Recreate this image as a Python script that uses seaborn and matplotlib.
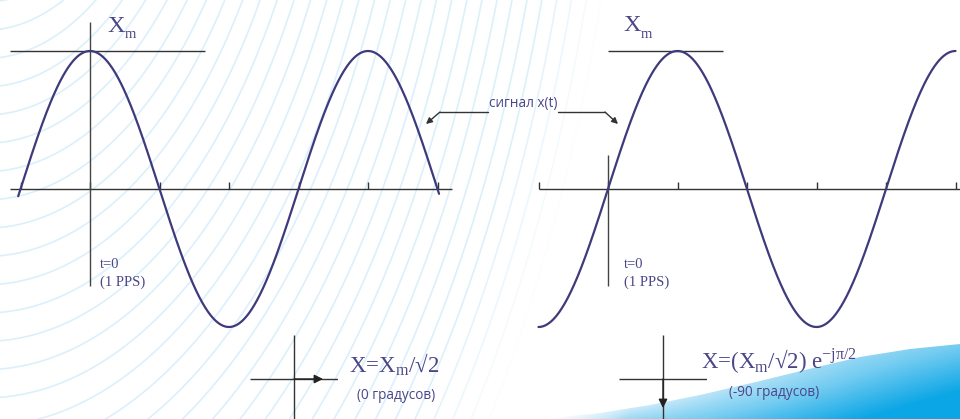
import numpy as np
import pandas as pd
import matplotlib
matplotlib.use("Agg")
import matplotlib.pyplot as plt
import seaborn as sns
from matplotlib.colors import LinearSegmentedColormap
from matplotlib.path import Path
from matplotlib.patches import PathPatch

# ---------------- data ----------------
panel_names = ["0 градусов", "-90 градусов"]
phase_shift_deg = [0, -90]          # phase of x(t) relative to t=0 (1 PPS)
amplitude_xm = [1.0, 1.0]
wave_start_deg = [-93, -90]
wave_end_deg = [452, 450]
tick_deg = [-90, 0, 90, 180, 270, 360, 450]
axis_span_deg = [(-103.6, 468.8), (-90.0, 460.0)]
xm_line_span_deg = [(-103.6, 148.8), (0.0, 148.8)]
t0_line_span = [(-0.703, 1.21), (-0.703, 0.246)]
phasor_length = 0.66
xm_parts = ["X", "m"]
formula_labels = ["X=X$_\\mathregular{m}$/√2",
                  "X=(X$_\\mathregular{m}$/√2) e$^\\mathregular{-jπ/2}$"]
degree_labels = ["(0 градусов)", "(-90 градусов)"]
signal_label = "сигнал x(t)"
t0_labels = ["t=0", "(1 PPS)"]

# ---------------- style ----------------
W, H = 960, 419
CURVE = "#3e3a7c"
TEXT = "#4a4687"
AXC = "#333333"
SERIF = ["Liberation Serif", "DejaVu Serif"]
SANS = ["Open Sans", "DejaVu Sans"]

sns.set_theme(style="white")
plt.rcParams["font.family"] = SANS

fig = plt.figure(figsize=(W / 100, H / 100), dpi=100)
fig.patch.set_facecolor("white")

# background / annotation layer in pixel coordinates
ax_bg = fig.add_axes([0, 0, 1, 1], zorder=0)
ax_bg.set_xlim(0, W)
ax_bg.set_ylim(H, 0)
ax_bg.set_axis_off()

# decorative light-blue arcs
cx, cy, ratio = -15.0, -400.0, 2.02
tt = np.linspace(-0.05, np.pi / 2 + 0.05, 600)
for a in np.arange(199, 650, 14):
    alpha = 1.0 if a < 590 else max(0.1, 1 - (a - 590) / 60)
    ax_bg.plot(cx + a * np.cos(tt), cy + ratio * a * np.sin(tt),
               color="#dcf0fb", lw=1.2, alpha=alpha, solid_capstyle="butt")

# blue swoosh bottom right
edge_x = np.array([540, 600, 650, 700, 760, 813, 860, 910, 960])
edge_y = np.array([419, 413, 405, 395, 381, 368, 357, 349, 344])
gx = np.arange(530, 961)
gy = np.arange(330, 420)
GX, GY = np.meshgrid(gx, gy)
ey = np.interp(GX, edge_x, edge_y)
depth = np.clip((GY - ey) / np.maximum(H - ey, 1), 0, 1)
tx = np.clip((GX - 545) / 415, 0, 1)
s = np.clip(0.2 + 0.45 * tx + 0.55 * depth * (0.25 + 0.75 * tx), 0, 1)
s = s * np.clip(tx * 5, 0, 1)
cmap = LinearSegmentedColormap.from_list("sw", ["#ffffff", "#c4e8f9", "#74ccf1", "#0aa6e6"])
img = ax_bg.imshow(s, cmap=cmap, vmin=0, vmax=1, extent=(529.5, 960.5, 419.5, 329.5),
                   aspect="auto", interpolation="bilinear", zorder=1)
verts = list(zip(edge_x, edge_y)) + [(960, 420), (540, 420)]
clip = PathPatch(Path(verts + [verts[0]], closed=True), transform=ax_bg.transData,
                 facecolor="none", edgecolor="none")
ax_bg.add_patch(clip)
img.set_clip_path(clip)
ax_bg.set_xlim(0, W)
ax_bg.set_ylim(H, 0)

# ---------------- the two waveform panels ----------------
PX_PER_DEG = 69.5 / 90.0
PX_PER_AMP = 138.0
AXIS_Y = 189.0
origins_px = [90.0, 608.0]

for i in range(2):
    ax = fig.add_axes([0, 0, 1, 1], zorder=2 + i)
    ox = origins_px[i]
    ax.set_xlim(-ox / PX_PER_DEG, (W - ox) / PX_PER_DEG)
    ax.set_ylim(-(H - AXIS_Y) / PX_PER_AMP, AXIS_Y / PX_PER_AMP)
    ax.patch.set_alpha(0)

    deg = np.linspace(wave_start_deg[i], wave_end_deg[i], 600)
    df = pd.DataFrame({"t": deg,
                       "x": amplitude_xm[i] * np.cos(np.deg2rad(deg + phase_shift_deg[i]))})
    sns.lineplot(data=df, x="t", y="x", ax=ax, color=CURVE, lw=1.6, zorder=5)

    # time axis, ticks, Xm level line, t=0 marker
    ax.hlines(0, *axis_span_deg[i], color=AXC, lw=1.0, zorder=3)
    ax.vlines(tick_deg, 0, 0.052, color=AXC, lw=1.0, zorder=3)
    ax.hlines(amplitude_xm[i], *xm_line_span_deg[i], color=AXC, lw=1.0, zorder=3)
    ax.vlines(0, *t0_line_span[i], color="#444444", lw=1.0, zorder=3)
    ax.set_axis_off()

# ---------------- phasor diagrams ----------------
phasor_centers = [(294, 379), (663, 379)]
for i, (pcx, pcy) in enumerate(phasor_centers):
    axp = fig.add_axes([(pcx - 44) / W, 1 - (pcy + 44) / H, 88 / W, 88 / H], zorder=6)
    axp.set_xlim(-1, 1)
    axp.set_ylim(-1, 1)
    axp.set_axis_off()
    axp.hlines(0, -1, 1, color=AXC, lw=1.0)
    axp.vlines(0, -1, 1, color=AXC, lw=1.0, clip_on=False)
    ang = np.deg2rad(phase_shift_deg[i])
    axp.annotate("", xy=(phasor_length * np.cos(ang), phasor_length * np.sin(ang)),
                 xytext=(0, 0),
                 arrowprops=dict(arrowstyle="-|>", color="#222222", lw=1.0,
                                 mutation_scale=13, shrinkA=0, shrinkB=0))

# ---------------- texts ----------------
for (x0, y0) in ((107, 32), (623, 31)):
    ax_bg.text(x0, y0, xm_parts[0], fontsize=17.5, family=SERIF, color=TEXT,
               va="baseline", ha="left", zorder=8)
    ax_bg.text(x0 + 18, y0 + 6.5, xm_parts[1], fontsize=10.5, family=SERIF, color=TEXT,
               va="baseline", ha="left", zorder=8)

for x0 in (100, 624):
    ax_bg.text(x0, 268, t0_labels[0], fontsize=10.5, family=SERIF, color=TEXT,
               va="baseline", ha="left", zorder=8)
    ax_bg.text(x0, 286, t0_labels[1], fontsize=10.5, family=SERIF, color=TEXT,
               va="baseline", ha="left", zorder=8)

ax_bg.text(349, 372, formula_labels[0], fontsize=16.5, family=SERIF, color=TEXT,
           va="baseline", ha="left", zorder=8)
ax_bg.text(701, 369, formula_labels[1], fontsize=16.5, family=SERIF, color=TEXT,
           va="baseline", ha="left", zorder=8)
ax_bg.text(396, 395, degree_labels[0], fontsize=9.8, family=SANS, color=TEXT,
           va="center", ha="center", zorder=8)
ax_bg.text(774, 392, degree_labels[1], fontsize=9.8, family=SANS, color=TEXT,
           va="center", ha="center", zorder=8)

# signal label with leader arrows
ax_bg.text(523, 103, signal_label, fontsize=9.8, family=SANS, color=TEXT,
           va="center", ha="center", zorder=8)
ax_bg.plot([488, 440], [112, 112], color=AXC, lw=1.0, zorder=7)
ax_bg.plot([558, 605], [112, 112], color=AXC, lw=1.0, zorder=7)
ax_bg.annotate("", xy=(426, 124), xytext=(440, 112),
               arrowprops=dict(arrowstyle="-|>", color=AXC, lw=1.0,
                               mutation_scale=9, shrinkA=0, shrinkB=0), zorder=7)
ax_bg.annotate("", xy=(618, 124), xytext=(605, 112),
               arrowprops=dict(arrowstyle="-|>", color=AXC, lw=1.0,
                               mutation_scale=9, shrinkA=0, shrinkB=0), zorder=7)

fig.savefig("out.png", dpi=100, facecolor="white")
